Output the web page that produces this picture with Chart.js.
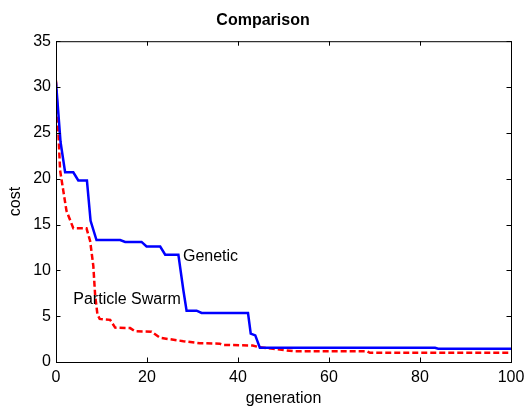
<!DOCTYPE html>
<html>
<head>
<meta charset="utf-8">
<script src="https://cdn.jsdelivr.net/npm/chart.js@4"></script>
<style>
  html, body { margin: 0; padding: 0; background: #fff; }
  #wrap { width: 526px; height: 408px; }
</style>
</head>
<body>
<div id="wrap"><canvas id="costChart"></canvas></div>
<script>
// values
const geneticGen  = [0, 1, 2, 3.8, 4.9, 6.8, 7.6, 8.9, 14.1, 15.2, 18.8, 19.9, 22.9, 24, 26.9, 28, 28.7, 30.9, 32, 42.2, 42.8, 43.8, 44.8, 83.3, 84, 100];
const geneticCost = [30.5, 24, 20.7, 20.7, 19.8, 19.8, 15.4, 13.3, 13.3, 13.1, 13.1, 12.6, 12.6, 11.7, 11.7, 7.8, 5.6, 5.6, 5.35, 5.35, 3.1, 2.9, 1.55, 1.55, 1.45, 1.45];

const swarmGen  = [0, 0.9, 1.6, 2.3, 3.8, 6.7, 7.5, 8.2, 8.6, 9.1, 9.6, 11.9, 13, 16.3, 17.4, 21, 22.9, 28, 31.6, 36, 36.7, 43.2, 44.8, 47.7, 52.2, 68.3, 69, 100];
const swarmCost = [30.7, 20.9, 18.7, 16.5, 14.6, 14.6, 13.2, 10.5, 7.3, 5.2, 4.7, 4.6, 3.75, 3.7, 3.35, 3.3, 2.64, 2.27, 2.05, 2.0, 1.87, 1.8, 1.6, 1.44, 1.18, 1.18, 1.0, 1.0];

const xTicks = [0, 20, 40, 60, 80, 100];
const yTicks = [0, 5, 10, 15, 20, 25, 30, 35];

const notes = [
    { text: "Genetic", x: 27.9, y: 11.5 },
    { text: "Particle Swarm", x: 3.8, y: 6.8 }
];

const font = "'Liberation Sans', Arial, Helvetica, sans-serif";
Chart.defaults.font.family = font;
Chart.defaults.font.size = 16;
Chart.defaults.color = "#000";

const toPoints = (xs, ys) => xs.map((x, i) => ({ x: x, y: ys[i] }));

// box around the plot, inward ticks and the two text labels
const framePlugin = {
    id: "frame",
    afterDraw(chart) {
        const { ctx, chartArea: a, scales } = chart;
        ctx.save();
        ctx.strokeStyle = "#000";
        ctx.lineWidth = 1;
        ctx.strokeRect(a.left + 0.5, a.top + 0.5, a.right - a.left, a.bottom - a.top);
        const len = 4.5;
        ctx.beginPath();
        xTicks.forEach(v => {
            const px = Math.round(scales.x.getPixelForValue(v)) + 0.5;
            ctx.moveTo(px, a.bottom); ctx.lineTo(px, a.bottom - len);
            ctx.moveTo(px, a.top); ctx.lineTo(px, a.top + len);
        });
        yTicks.forEach(v => {
            const py = Math.round(scales.y.getPixelForValue(v)) + 0.5;
            ctx.moveTo(a.left, py); ctx.lineTo(a.left + len, py);
            ctx.moveTo(a.right, py); ctx.lineTo(a.right - len, py);
        });
        ctx.stroke();

        ctx.fillStyle = "#000";
        ctx.font = "16px " + font;
        ctx.textAlign = "left";
        ctx.textBaseline = "middle";
        notes.forEach(n => {
            ctx.fillText(n.text, scales.x.getPixelForValue(n.x), scales.y.getPixelForValue(n.y));
        });
        ctx.restore();
    }
};

new Chart(document.getElementById("costChart"), {
    type: "line",
    data: {
        datasets: [
            {
                label: "Genetic",
                data: toPoints(geneticGen, geneticCost),
                borderColor: "#0000ff",
                borderWidth: 2.5,
                pointRadius: 0,
                tension: 0,
                fill: false
            },
            {
                label: "Particle Swarm",
                data: toPoints(swarmGen, swarmCost),
                borderColor: "#ff0000",
                borderWidth: 2.5,
                borderDash: [6, 3],
                pointRadius: 0,
                tension: 0,
                fill: false
            }
        ]
    },
    options: {
        responsive: true,
        maintainAspectRatio: false,
        animation: false,
        layout: {
            padding: 0
        },
        plugins: {
            legend: { display: false },
            tooltip: { enabled: false },
            title: {
                display: true,
                text: "Comparison",
                font: { size: 16, weight: "bold" },
                padding: { top: 11, bottom: 11 }
            }
        },
        scales: {
            x: {
                type: "linear",
                min: 0,
                max: 100,
                grid: { display: false, drawTicks: false },
                border: { display: false },
                afterBuildTicks: s => { s.ticks = xTicks.map(v => ({ value: v })); },
                ticks: { padding: 6, maxRotation: 0 },
                title: {
                    display: true,
                    text: "generation",
                    padding: { top: 0, bottom: 0 }
                },
                afterFit: s => {
                    s.height = 46;
                    s.paddingLeft = 0;
                    s.paddingRight = 15;
                }
            },
            y: {
                min: 0,
                max: 35,
                grid: { display: false, drawTicks: false },
                border: { display: false },
                afterBuildTicks: s => { s.ticks = yTicks.map(v => ({ value: v })); },
                ticks: { padding: 5 },
                title: {
                    display: true,
                    text: "cost",
                    padding: { top: 6, bottom: 0 }
                },
                afterFit: s => { s.width = 56; }
            }
        }
    },
    plugins: [framePlugin]
});
</script>
</body>
</html>
